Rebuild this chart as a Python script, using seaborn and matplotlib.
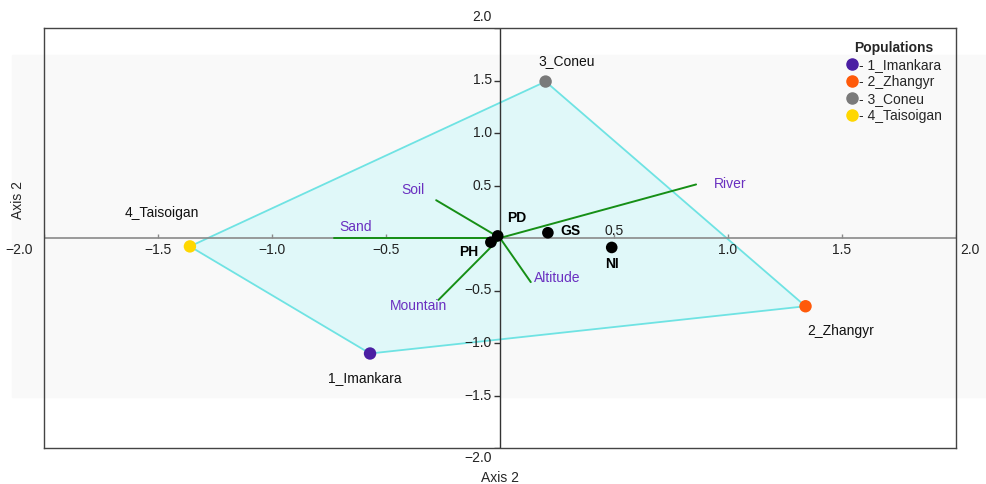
import numpy as np
import pandas as pd
import matplotlib.pyplot as plt
import seaborn as sns
from matplotlib.patches import Polygon, Rectangle
from matplotlib.lines import Line2D

# populations (site scores)
pop_names = ['1_Imankara', '2_Zhangyr', '3_Coneu', '4_Taisoigan']
pop_x = [-0.57, 1.34, 0.20, -1.36]
pop_y = [-1.10, -0.65, 1.49, -0.08]
pop_colors = ['#4b1fa3', '#ff5a0a', '#7a7a7a', '#ffd700']

# traits (black points)
trait_names = ['PD', 'PH', 'GS', 'NI']
trait_x = [-0.01, -0.04, 0.21, 0.49]
trait_y = [0.02, -0.04, 0.05, -0.09]

# environmental vectors
env_names = ['River', 'Soil', 'Sand', 'Mountain', 'Altitude']
env_x = [0.86, -0.28, -0.73, -0.27, 0.135]
env_y = [0.51, 0.36, 0.0, -0.59, -0.42]

ticks = [-2.0, -1.5, -1.0, -0.5, 0.5, 1.0, 1.5, 2.0]

FS = 10

sns.set_style('white')
plt.rcParams['font.family'] = ['Liberation Sans', 'DejaVu Sans']

fig = plt.figure(figsize=(9.87, 4.84), dpi=100)
fig.patch.set_facecolor('white')
# faint grey band behind the chart
fig.patches.append(Rectangle((12 / 987, 87 / 484), 975 / 987, 342 / 484,
                             transform=fig.transFigure, color='#f9f9f9', zorder=-5))
ax = fig.add_axes([44 / 987, 36 / 484, 912 / 987, 420 / 484])
ax.set_facecolor('none')
ax.set_xlim(-2, 2)
ax.set_ylim(-2, 2)
for s in ax.spines.values():
    s.set_color('#444444')
    s.set_linewidth(1.0)
ax.set_xticks([])
ax.set_yticks([])

# centre axes
ax.axhline(0, color='#8a8a8a', lw=1.2, zorder=2)
ax.axvline(0, color='#333333', lw=1.0, zorder=2)
ax.plot(np.zeros(len(ticks)), ticks, ls='', marker=0, ms=4, color='#333333', zorder=2)
ax.plot(ticks, np.zeros(len(ticks)), ls='', marker=2, ms=3, color='#8a8a8a', zorder=2)

for t in ticks:
    # y tick labels
    dy = 8 if t == 2.0 else (-7 if t == -2.0 else 0)
    ax.annotate(f'{t:.1f}'.replace('-', '\u2212'), (0, t), xytext=(-6, dy),
                textcoords='offset points', ha='right', va='center',
                fontsize=FS, color='#222222', annotation_clip=False)
    # x tick labels
    dx = -18 if t == -2.0 else (10 if t == 2.0 else 0)
    dyx = 5 if t == 0.5 else -9
    ax.annotate(f'{t:.1f}'.replace('-', '\u2212'), (t, 0), xytext=(dx, dyx),
                textcoords='offset points', ha='center', va='center',
                fontsize=FS, color='#222222', annotation_clip=False)

# hull polygon (order 4 -> 3 -> 2 -> 1)
order = [3, 2, 1, 0]
hull = Polygon(np.column_stack([np.array(pop_x)[order], np.array(pop_y)[order]]),
               closed=True, facecolor='#e0f8f9', edgecolor='#6fe3e3', lw=1.3, zorder=1)
ax.add_patch(hull)

# environmental vectors
for n, x, y in zip(env_names, env_x, env_y):
    ax.plot([0, x], [0, y], color='#168f16', lw=1.4, zorder=3)
env_off = {'River': (13, 0, 'left'), 'Soil': (-8, 7, 'right'), 'Sand': (4, 8, 'left'),
           'Mountain': (-14, -4, 'center'), 'Altitude': (19, 3, 'center')}
for n, x, y in zip(env_names, env_x, env_y):
    ox, oy, ha = env_off[n]
    ax.annotate(n, (x, y), xytext=(ox, oy), textcoords='offset points', ha=ha,
                va='center', fontsize=FS, color='#6a30c0')

# trait points
traits = pd.DataFrame({'x': trait_x, 'y': trait_y, 'name': trait_names})
sns.scatterplot(data=traits, x='x', y='y', color='black', s=70, edgecolor='none',
                ax=ax, zorder=5, legend=False)
trait_off = {'PD': (14, 13), 'PH': (-16, -7), 'GS': (16, 1), 'NI': (0, -12)}
for n, x, y in zip(trait_names, trait_x, trait_y):
    ox, oy = trait_off[n]
    ax.annotate(n, (x, y), xytext=(ox, oy), textcoords='offset points', ha='center',
                va='center', fontsize=FS, fontweight='bold', color='black')

# population points
pops = pd.DataFrame({'x': pop_x, 'y': pop_y, 'pop': pop_names})
sns.scatterplot(data=pops, x='x', y='y', hue='pop', palette=pop_colors, s=80,
                edgecolor='none', ax=ax, zorder=6, legend=False)
pop_off = {'1_Imankara': (-4, -18), '2_Zhangyr': (25, -18), '3_Coneu': (15, 15),
           '4_Taisoigan': (-20, 24)}
for n, x, y in zip(pop_names, pop_x, pop_y):
    ox, oy = pop_off[n]
    ax.annotate(n, (x, y), xytext=(ox, oy), textcoords='offset points', ha='center',
                va='center', fontsize=FS, color='#111111')

ax.set_xlabel('')
ax.set_ylabel('')
fig.text(500 / 987, 1 - 478 / 484, 'Axis 2', ha='center', va='center', fontsize=FS)
fig.text(18 / 987, 1 - 200 / 484, 'Axis 2', ha='center', va='center', rotation=90,
         fontsize=FS)

handles = [Line2D([], [], ls='', marker='o', ms=8, color=c) for c in pop_colors]
leg = ax.legend(handles, ['- ' + n for n in pop_names], title='Populations',
                loc='upper right', bbox_to_anchor=(0.994, 0.99), frameon=False,
                fontsize=FS, handletextpad=0.0, handlelength=1.0, labelspacing=0.22,
                borderaxespad=0.2)
leg.get_title().set_fontweight('bold')
leg.get_title().set_fontsize(FS)

fig.savefig('out.png', dpi=100)
